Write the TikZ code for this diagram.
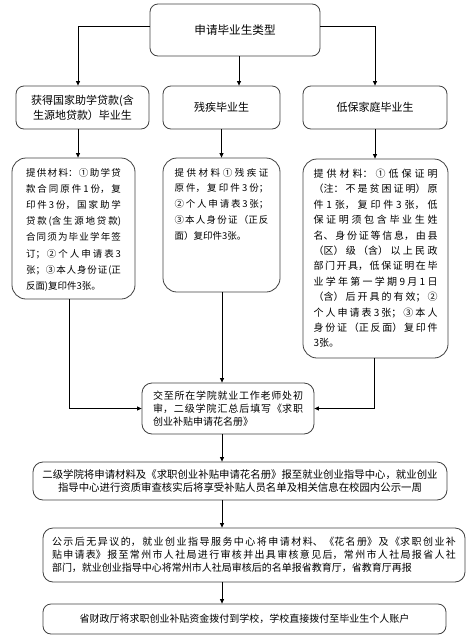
\documentclass[tikz,border=0pt]{standalone}
\usepackage{fontspec}
\setmainfont{Noto Sans CJK SC}
\usetikzlibrary{arrows.meta, positioning}
\XeTeXlinebreaklocale "zh"
\XeTeXlinebreakskip=0pt plus 5pt

\begin{document}
\begin{tikzpicture}[x=1pt, y=-1pt,
    stage/.style={draw=black!75, line width=0.8pt, rounded corners=8pt, align=center, inner sep=0pt, font=\fontsize{11}{15}\selectfont},
    material/.style={draw=black!75, line width=0.8pt, rounded corners=14pt, inner sep=0pt},
    flowstep/.style={draw=black!75, line width=0.8pt, rounded corners=10pt, inner sep=0pt, font=\fontsize{10}{13}\selectfont},
    arrow/.style={-{Triangle[length=4.5pt, width=4pt]}, line width=0.8pt}
]
\useasboundingbox (0,0) rectangle (468,643);

% Graduate types
\node[stage, font=\fontsize{11.6}{15}\selectfont, minimum width=170pt, minimum height=52pt] (type) at (235,30) {申请毕业生类型};
\node[stage, minimum width=133pt, minimum height=43pt] (loan) at (82.5,107.5) {获得国家助学贷款(含\\生源地贷款）毕业生};
\node[stage, minimum width=117pt, minimum height=43pt] (dis) at (221.5,107.5) {残疾毕业生};
\node[stage, minimum width=144pt, minimum height=43pt] (poor) at (375,107.5) {低保家庭毕业生};

% Required materials
\node[material, minimum width=123pt, minimum height=141pt] (loanmat) at (73.5,228.5) {\parbox[c][121pt][t]{95pt}{\fontsize{9.5}{16.2}\selectfont 提供材料：①助学贷\linebreak
款合同原件1份，复\linebreak
印件3份，国家助学\linebreak
贷款(含生源地贷款)\linebreak
合同须为毕业学年签\linebreak
订；②个人申请表3\linebreak
张；③本人身份证(正\linebreak
反面)复印件3张。}};
\node[material, minimum width=117pt, minimum height=134pt] (dismat) at (221.5,225) {\parbox[c][114pt][t]{94pt}{\fontsize{9.5}{15.8}\selectfont 提供材料①残疾证\linebreak
原件，复印件3份；\linebreak
②个人申请表3张；\linebreak
③本人身份证（正反\linebreak
面）复印件3张。}};
\node[material, minimum width=145pt, minimum height=199pt] (poormat) at (375.5,258.5) {\parbox[c][179pt][t]{124pt}{\fontsize{10}{15.4}\selectfont 提供材料：①低保证明\linebreak
（注：不是贫困证明）原\linebreak
件1张，复印件3张，低\linebreak
保证明须包含毕业生姓\linebreak
名、身份证等信息，由县\linebreak
（区）级（含）以上民政\linebreak
部门开具，低保证明在毕\linebreak
业学年第一学期9月1日\linebreak
（含）后开具的有效；②\linebreak
个人申请表3张；③本人\linebreak
身份证（正反面）复印件\linebreak
3张。}};

% Processing steps
\node[flowstep, minimum width=172pt, minimum height=51pt] (submit) at (228,408.5) {\parbox{150pt}{交至所在学院就业工作老师处初\linebreak
审，二级学院汇总后填写《求职\linebreak
创业补贴申请花名册》}};
\node[flowstep, font=\fontsize{10.4}{13}\selectfont, align=center, minimum width=414pt, minimum height=38pt] (review) at (240,481) {二级学院将申请材料及《求职创业补贴申请花名册》报至就业创业指导中心，就业创业\\指导中心进行资质审查核实后将享受补贴人员名单及相关信息在校园内公示一周};
\node[flowstep, minimum width=422pt, minimum height=54pt] (report) at (254,555) {\parbox{404pt}{公示后无异议的，就业创业指导服务中心将申请材料、《花名册》及《求职创业补\linebreak
贴申请表》报至常州市人社局进行审核并出具审核意见后，常州市人社局报省人社\linebreak
部门，就业创业指导中心将常州市人社局审核后的名单报省教育厅，省教育厅再报}};
\node[flowstep, rounded corners=8pt, minimum width=403pt, minimum height=30pt] (fund) at (244.5,619) {省财政厅将求职创业补贴资金拨付到学校，学校直接拨付至毕业生个人账户};

% Connectors
\coordinate (spine) at (222,0);
\draw[arrow] ([yshift=4pt]type.west) -| ([xshift=-4.5pt]loan.north);
\draw[arrow] ([yshift=4pt]type.east) -| (poor.north);
\draw[arrow] ([xshift=4pt]type.south) -- ([xshift=4pt]type.south |- dis.north);
\draw[arrow] ([xshift=-4.5pt]loan.south) -- ([xshift=-4.5pt]loan.south |- loanmat.north);
\draw[arrow] (dis.south) -- (dismat.north);
\draw[arrow] (poor.south) -- (poor.south |- poormat.north);
\draw[arrow] ([xshift=-4.5pt]loanmat.south) |- (submit.west);
\draw[arrow] (dismat.south -| spine) -- (submit.north -| spine);
\draw[arrow] ([xshift=-1.5pt]poormat.south) |- (submit.east);
\draw[arrow] (submit.south -| spine) -- (review.north -| spine);
\draw[arrow] (review.south -| spine) -- (report.north -| spine);
\draw[arrow] (report.south -| spine) -- (fund.north -| spine);

\end{tikzpicture}
\end{document}
